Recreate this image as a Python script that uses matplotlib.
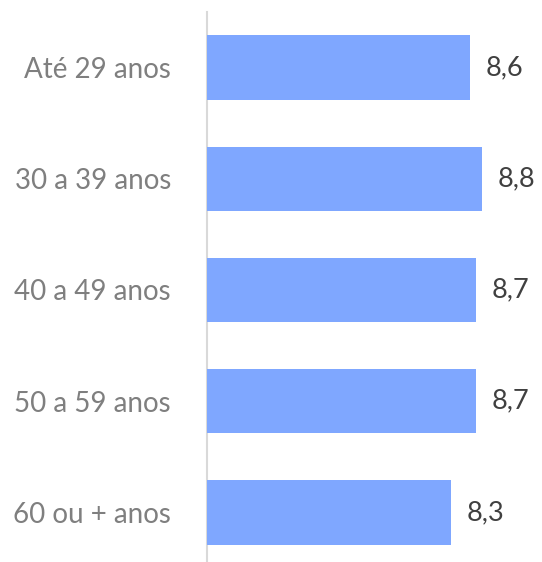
import matplotlib.pyplot as plt

# Dados
faixas = ["Até 29 anos", "30 a 39 anos", "40 a 49 anos", "50 a 59 anos", "60 ou + anos"]
notas = [8.6, 8.8, 8.7, 8.7, 8.3]
rotulos = ["8,6", "8,8", "8,7", "8,7", "8,3"]

cor_barra = "#7FA7FF"

fig = plt.figure(figsize=(5.42, 5.62), dpi=100)
ax = fig.add_axes([207 / 542, -6 / 562, 335 / 542, 556 / 562])

pos = list(range(len(faixas)))
ax.barh(pos, notas, height=0.58, color=cor_barra)
ax.set_xlim(4.36, 9.76)
ax.set_ylim(len(faixas) - 0.5, -0.5)

for p, v, r in zip(pos, notas, rotulos):
    ax.annotate(r, (v, p), xytext=(11, 0), textcoords="offset points",
                ha="left", va="center", fontsize=19.5, color="#404040", family="Lato")

ax.set_yticks(pos)
ax.set_yticklabels(faixas, fontsize=20, color="#7F7F7F", family="Lato")
ax.tick_params(axis="y", length=0, pad=26)
ax.set_xticks([])
for lado in ["top", "right", "bottom"]:
    ax.spines[lado].set_visible(False)
ax.spines["left"].set_color("#D9D9D9")
ax.spines["left"].set_linewidth(1.5)
ax.spines["left"].set_zorder(0)

fig.savefig("out.png", dpi=100)
